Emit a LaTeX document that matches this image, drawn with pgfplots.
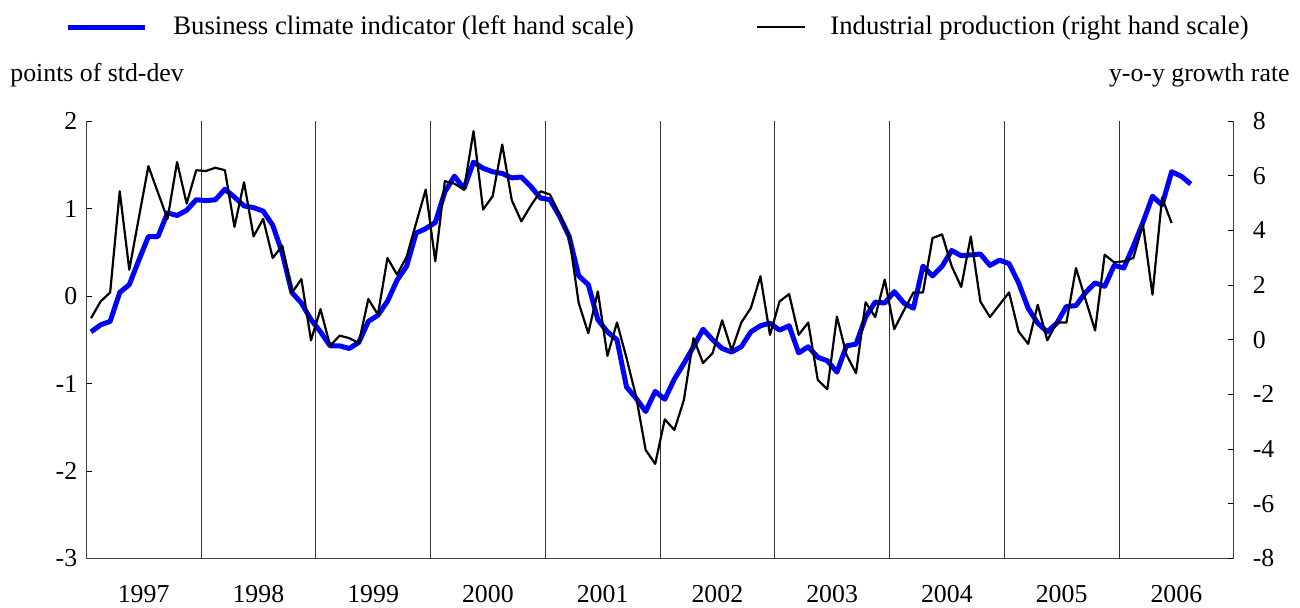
\documentclass[border=0pt]{standalone}
\usepackage{pgfplots}
\pgfplotsset{compat=1.18}
\usepackage{fontspec}
\setmainfont{Liberation Serif}

\pgfplotstableread{
m bci
0.5 -0.41
1.5 -0.33
2.5 -0.29
3.5 0.04
4.5 0.13
5.5 0.41
6.5 0.68
7.5 0.68
8.5 0.95
9.5 0.92
10.5 0.98
11.5 1.10
12.5 1.09
13.5 1.10
14.5 1.22
15.5 1.13
16.5 1.03
17.5 1.01
18.5 0.97
19.5 0.81
20.5 0.49
21.5 0.04
22.5 -0.08
23.5 -0.27
24.5 -0.41
25.5 -0.57
26.5 -0.57
27.5 -0.60
28.5 -0.53
29.5 -0.29
30.5 -0.22
31.5 -0.06
32.5 0.18
33.5 0.34
34.5 0.72
35.5 0.77
36.5 0.84
37.5 1.19
38.5 1.37
39.5 1.23
40.5 1.53
41.5 1.46
42.5 1.42
43.5 1.40
44.5 1.35
45.5 1.36
46.5 1.25
47.5 1.12
48.5 1.10
49.5 0.91
50.5 0.68
51.5 0.23
52.5 0.13
53.5 -0.27
54.5 -0.41
55.5 -0.50
56.5 -1.04
57.5 -1.17
58.5 -1.32
59.5 -1.09
60.5 -1.18
61.5 -0.95
62.5 -0.77
63.5 -0.58
64.5 -0.38
65.5 -0.50
66.5 -0.60
67.5 -0.64
68.5 -0.58
69.5 -0.41
70.5 -0.34
71.5 -0.31
72.5 -0.39
73.5 -0.34
74.5 -0.65
75.5 -0.58
76.5 -0.70
77.5 -0.74
78.5 -0.87
79.5 -0.57
80.5 -0.55
81.5 -0.24
82.5 -0.07
83.5 -0.08
84.5 0.05
85.5 -0.08
86.5 -0.14
87.5 0.34
88.5 0.23
89.5 0.34
90.5 0.52
91.5 0.46
92.5 0.47
93.5 0.48
94.5 0.35
95.5 0.41
96.5 0.37
97.5 0.15
98.5 -0.14
99.5 -0.31
100.5 -0.41
101.5 -0.31
102.5 -0.12
103.5 -0.11
104.5 0.04
105.5 0.15
106.5 0.11
107.5 0.35
108.5 0.32
109.5 0.57
110.5 0.84
111.5 1.14
112.5 1.04
113.5 1.42
114.5 1.37
115.5 1.28
}\bcitable

\pgfplotstableread{
m ip
0.5 0.79
1.5 1.40
2.5 1.73
3.5 5.43
4.5 2.56
5.5 4.46
6.5 6.35
7.5 5.38
8.5 4.42
9.5 6.50
10.5 4.98
11.5 6.20
12.5 6.17
13.5 6.29
14.5 6.20
15.5 4.13
16.5 5.76
17.5 3.78
18.5 4.42
19.5 2.99
20.5 3.44
21.5 1.71
22.5 2.22
23.5 -0.02
24.5 1.12
25.5 -0.22
26.5 0.15
27.5 0.06
28.5 -0.12
29.5 1.49
30.5 0.92
31.5 2.99
32.5 2.38
33.5 3.03
34.5 4.27
35.5 5.49
36.5 2.87
37.5 5.80
38.5 5.71
39.5 5.49
40.5 7.63
41.5 4.76
42.5 5.25
43.5 7.14
44.5 5.10
45.5 4.33
46.5 4.91
47.5 5.43
48.5 5.31
49.5 4.58
50.5 3.78
51.5 1.34
52.5 0.24
53.5 1.77
54.5 -0.59
55.5 0.63
56.5 -0.67
57.5 -2.08
58.5 -4.03
59.5 -4.54
60.5 -2.91
61.5 -3.30
62.5 -2.20
63.5 0.06
64.5 -0.85
65.5 -0.49
66.5 0.71
67.5 -0.39
68.5 0.63
69.5 1.16
70.5 2.32
71.5 0.18
72.5 1.40
73.5 1.67
74.5 0.18
75.5 0.63
76.5 -1.47
77.5 -1.81
78.5 0.85
79.5 -0.55
80.5 -1.22
81.5 1.37
82.5 0.83
83.5 2.20
84.5 0.39
85.5 1.07
86.5 1.73
87.5 1.73
88.5 3.72
89.5 3.85
90.5 2.69
91.5 1.93
92.5 3.78
93.5 1.40
94.5 0.83
95.5 1.28
96.5 1.73
97.5 0.30
98.5 -0.15
99.5 1.28
100.5 -0.02
101.5 0.63
102.5 0.63
103.5 2.62
104.5 1.47
105.5 0.34
106.5 3.11
107.5 2.83
108.5 2.87
109.5 2.99
110.5 4.22
111.5 1.65
112.5 5.19
113.5 4.27
}\iptable

\begin{document}
\begin{tikzpicture}[font=\fontsize{12.9pt}{15pt}\selectfont]
\useasboundingbox (0,0) rectangle (650pt,303.5pt);

% legend
\draw[blue, line width=2.5pt] (34pt,290pt) -- (72.5pt,290pt);
\node[anchor=west, inner sep=0pt, font=\fontsize{13.35pt}{15pt}\selectfont] at (86.5pt,289.5pt) {Business climate indicator (left hand scale)};
\draw[black, line width=1.1pt] (378.5pt,290pt) -- (402.5pt,290pt);
\node[anchor=west, inner sep=0pt, font=\fontsize{13.35pt}{15pt}\selectfont] at (415pt,289.5pt) {Industrial production (right hand scale)};

% axis titles
\node[anchor=west, inner sep=0pt] at (5pt,266pt) {points of std-dev};
\node[anchor=east, inner sep=0pt] at (645pt,266pt) {y-o-y growth rate};

\begin{axis}[
  at={(43.125pt,24.25pt)}, anchor=south west,
  scale only axis, width=573.75pt, height=218.75pt,
  xmin=0, xmax=120, ymin=-3, ymax=2,
  axis x line*=bottom, axis y line*=left,
  axis line style={black!75, line width=0.5pt},
  xtick={6,18,30,42,54,66,78,90,102,114},
  xticklabels={1997,1998,1999,2000,2001,2002,2003,2004,2005,2006},
  xtick style={draw=none},
  xticklabel style={yshift=-10pt},
  ytick={-3,-2,-1,0,1,2},
  yticklabels={-3,-2,-1,0,1,2},
  yticklabel style={xshift=-1pt},
  ytick style={black, line width=0.5pt},
  tick align=inside, major tick length=3pt,
  extra x ticks={12,24,36,48,60,72,84,96,108},
  extra x tick labels={},
  extra x tick style={grid=major, major grid style={black!80, line width=0.5pt}, tick style={draw=none}},
  tick label style={font=\fontsize{12.9pt}{15pt}\selectfont},
  /pgf/number format/assume math mode=true,
  clip=false,
]
\addplot[blue, line width=2.5pt, line join=round] table[x=m, y=bci] {\bcitable};
\end{axis}

\begin{axis}[
  at={(43.125pt,24.25pt)}, anchor=south west,
  scale only axis, width=573.75pt, height=218.75pt,
  xmin=0, xmax=120, ymin=-8, ymax=8,
  axis x line=none, axis y line*=right,
  axis line style={black!75, line width=0.5pt},
  ytick={-8,-6,-4,-2,0,2,4,6,8},
  yticklabels={-8,-6,-4,-2,0,2,4,6,8},
  yticklabel style={anchor=west, xshift=6pt},
  ytick style={black, line width=0.5pt},
  tick align=inside, major tick length=3pt,
  tick label style={font=\fontsize{12.9pt}{15pt}\selectfont},
  /pgf/number format/assume math mode=true,
]
\addplot[black, line width=1.1pt, line join=round] table[x=m, y=ip] {\iptable};
\end{axis}
\end{tikzpicture}
\end{document}
